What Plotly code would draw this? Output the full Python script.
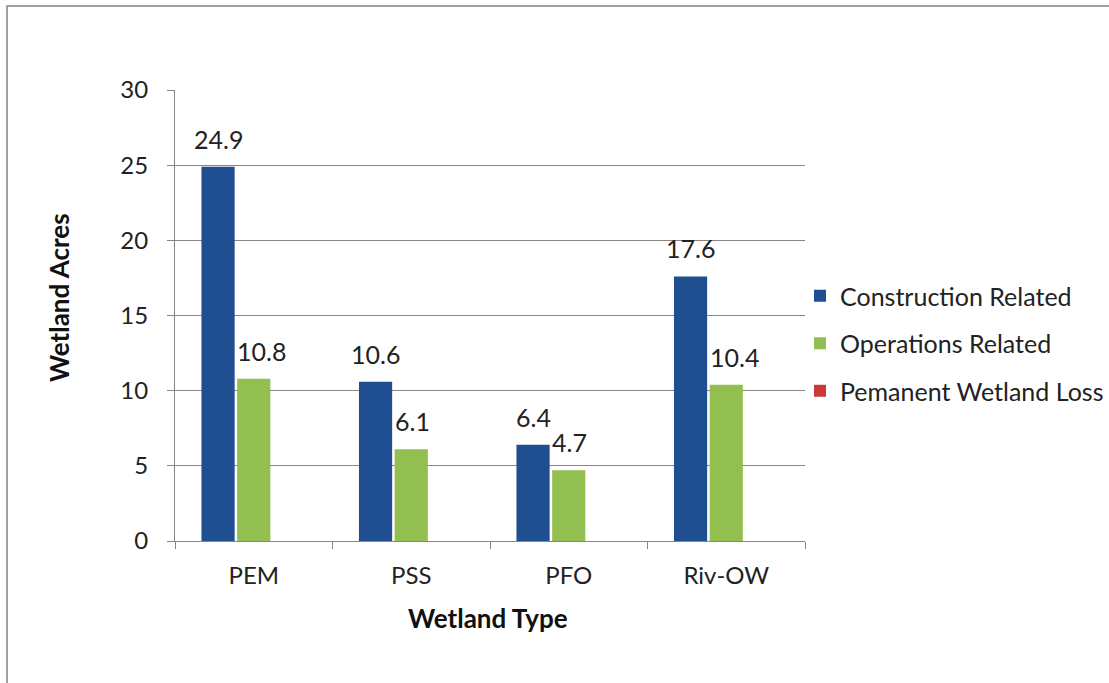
import plotly.graph_objects as go

# Wetland acreage by type
wetland_types = ["PEM", "PSS", "PFO", "Riv-OW"]
construction = [24.9, 10.6, 6.4, 17.6]
operations = [10.8, 6.1, 4.7, 10.4]
permanent_loss = [0, 0, 0, 0]
y_ticks = [0, 5, 10, 15, 20, 25, 30]

W, H = 1109, 683
L, R, T, B = 175, 805, 90, 541
pw, ph = R - L, B - T
BARGAP, GROUPGAP = 0.32, 0.07
FONT = "Lato, sans-serif"


def px_x(p):
    return (p - L) / pw


def px_y(p):
    return (B - p) / ph


fig = go.Figure()
fig.add_bar(name="Construction Related", x=wetland_types, y=construction,
            marker=dict(color="#1f4e91", line_width=0), legendgroup="a")
fig.add_bar(name="Operations Related", x=wetland_types, y=operations,
            marker=dict(color="#92bf4f", line_width=0), legendgroup="b")
fig.add_bar(name="Pemanent Wetland Loss", x=wetland_types, y=permanent_loss,
            marker=dict(color="#c8393a", line_width=0), legendgroup="c")

# value labels: centred over the construction bars, left-aligned on the operations bars
slot_px = pw / len(wetland_types) * (1 - BARGAP) / 3
bar_px = slot_px * (1 - GROUPGAP)
annotations = []
for cat, v in zip(wetland_types, construction):
    annotations.append(dict(x=cat, y=v, xref="x", yref="y", text=f"{v:.1f}",
                            showarrow=False, xanchor="center", yanchor="bottom",
                            xshift=-slot_px, yshift=11,
                            font=dict(family=FONT, size=25, color="#222")))
for cat, v in zip(wetland_types, operations):
    annotations.append(dict(x=cat, y=v, xref="x", yref="y", text=f"{v:.1f}",
                            showarrow=False, xanchor="left", yanchor="bottom",
                            xshift=-bar_px / 2 - 2, yshift=11,
                            font=dict(family=FONT, size=25, color="#222")))

# axis titles
annotations.append(dict(x=px_x(59), y=px_y(297), xref="paper", yref="paper",
                        text="<b>Wetland Acres</b>", textangle=-90, showarrow=False,
                        xanchor="center", yanchor="middle",
                        font=dict(family=FONT, size=26, color="#111")))
annotations.append(dict(x=px_x(488), y=px_y(618), xref="paper", yref="paper",
                        text="<b>Wetland Type</b>", showarrow=False,
                        xanchor="center", yanchor="middle",
                        font=dict(family=FONT, size=26, color="#111")))

fig.update_layout(
    width=W, height=H,
    margin=dict(l=L, r=W - R, t=T, b=H - B, autoexpand=False),
    paper_bgcolor="white", plot_bgcolor="white",
    barmode="group", bargap=BARGAP, bargroupgap=GROUPGAP,
    font=dict(family=FONT, color="#222"),
    showlegend=True,
    legend=dict(x=px_x(800), y=px_y(273), xanchor="left", yanchor="top",
                font=dict(size=25, color="#222"), tracegroupgap=12,
                bgcolor="rgba(0,0,0,0)", itemwidth=30),
    yaxis=dict(range=[0, 30], tickvals=y_ticks, showgrid=True,
               gridcolor="#8c8282", gridwidth=1,
               showline=True, linecolor="#8c8282", linewidth=1,
               ticks="outside", ticklen=7, tickcolor="#8c8282",
               ticklabelstandoff=14,
               tickfont=dict(size=24, color="#222"), zeroline=False),
    xaxis=dict(showline=True, linecolor="#8c8282", linewidth=1,
               ticks="outside", ticklen=7, tickcolor="#8c8282", tickson="boundaries",
               ticklabelstandoff=13,
               tickfont=dict(size=24, color="#222")),
    annotations=annotations,
    shapes=[dict(type="rect", xref="paper", yref="paper",
                 x0=px_x(7), x1=px_x(W + 20), y0=px_y(H + 20), y1=px_y(6),
                 line=dict(color="#8a8080", width=1.5), fillcolor="rgba(0,0,0,0)",
                 layer="below")],
)

fig.write_html("out.html")
